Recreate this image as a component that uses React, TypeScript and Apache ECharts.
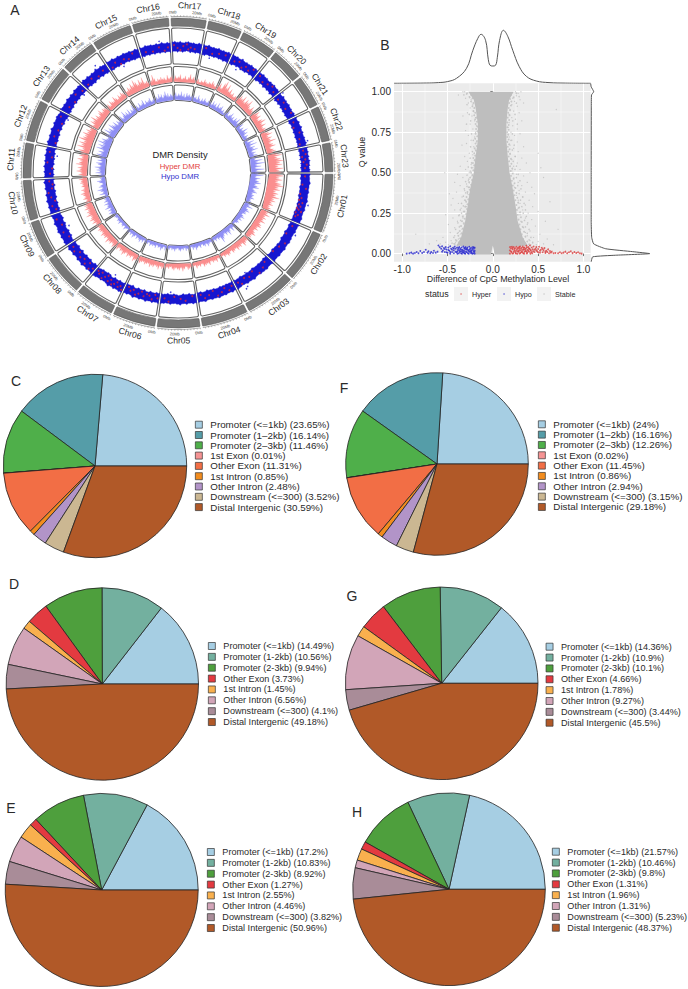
import React, { useEffect, useRef } from "react";
import * as echarts from "echarts";

// ---------- Panel A ----------
const chrNames = ["Chr01","Chr02","Chr03","Chr04","Chr05","Chr06","Chr07","Chr08","Chr09","Chr10","Chr11","Chr12","Chr13","Chr14","Chr15","Chr16","Chr17","Chr18","Chr19","Chr20","Chr21","Chr22","Chr23"];
const chrMb = [49,43,43,39,36,36,33,35,32,34,30,35,31,30,34,31,30,29,30,28,27,30,25];

const hyperDensity = [
[11,14,10,13,9,12,15,10,12,8,11,9,13,8,10,7,9,6,8,7],
[9,7,10,6,8,6,9,5,7,8,5,7,4,6,8,5,6,4],
[7,5,6,8,4,6,5,7,4,5,6,3,5,6,4,5,3,4],
[5,3,6,4,5,3,6,4,5,6,3,5,4,6,3,4],
[4,5,6,3,5,7,4,6,5,4,6,5,3,5,4,5],
[5,6,4,7,5,4,6,5,7,4,5,6,4,5,7,5],
[5,6,8,4,6,5,7,4,6,8,5,6,4,7,5],
[6,8,5,7,6,9,5,7,6,8,5,6,7,5,6],
[7,5,8,6,9,7,6,10,7,8,6,9,7,8,6],
[6,4,7,5,6,8,5,7,4,6,5,7,6,8,5],
[5,8,6,10,7,9,6,11,8,7,10,6,9,7],
[8,11,7,13,9,12,8,14,10,9,12,8,10,7,9],
[9,6,10,8,12,7,9,6,8,10,6,8,7,5],
[5,7,4,8,6,5,9,6,4,7,5,8,6,4],
[7,5,8,6,10,7,12,9,6,10,7,11,5,6,4],
[4,5,10,6,3,5,4,6,4,5,3,7,4,5,6],
[3,6,4,5,7,3,4,6,3,5,8,4,6,3],
[3,5,2,4,3,6,4,3,5,4,7,5,3,6],
[5,8,4,10,13,7,11,5,8,4,6,3,5,4],
[6,9,7,11,6,10,8,12,7,5,9,6,4],
[6,10,7,9,5,8,11,6,9,5,7,6],
[5,8,11,6,9,7,12,6,8,10,5,7,9,6],
[10,14,9,12,15,11,13,9,14,10,12],
];
const hypoDensity = [
[7,12,5,9,6,8,10,5,7,9,4,6,8,4,6,5,7,4,5,3],
[7,5,9,4,6,8,5,6,3,5,7,4,6,3,5,4,2,3],
[6,4,7,3,5,8,4,6,3,5,7,10,4,5,3,5,3,4],
[5,3,4,6,3,5,4,2,5,3,4,6,3,5,2,4],
[4,3,5,2,4,3,5,4,2,3,5,3,4,2,4,3],
[3,5,2,4,6,3,4,2,5,3,4,3,5,2,4,3],
[4,2,5,3,6,4,3,5,2,4,6,3,5,3,4],
[4,2,3,5,2,4,3,2,5,3,4,2,3,4,2],
[3,5,7,4,6,3,8,5,4,7,3,6,4,5,3],
[5,3,8,4,6,9,4,7,5,3,6,8,4,5,3],
[6,4,9,5,8,6,10,5,7,9,4,8,5,7],
[7,10,6,9,5,12,8,11,7,13,8,10,6,5,8],
[8,6,12,7,9,5,11,8,6,9,4,7,5,6],
[5,8,4,6,10,5,7,4,8,3,6,4,9,5],
[4,6,3,7,4,5,8,3,6,4,5,7,3,4,5],
[3,6,4,8,5,7,4,6,9,5,7,4,6,5,4],
[5,7,4,6,5,8,4,6,3,7,5,6,4,5],
[6,4,5,3,7,4,2,5,3,6,4,3,5,4],
[5,3,7,4,6,3,8,4,5,7,3,5,2,4],
[4,7,3,5,8,4,6,3,7,5,9,4,6],
[5,8,3,6,4,9,5,7,3,6,4,5],
[6,3,9,5,11,4,8,6,10,4,7,5,8,4],
[8,5,12,7,14,6,10,5,13,6,9],
];
// outer and inner edge of the dense hypo DMR band, per chromosome
const bandOuter = [
[132,131.5,132.5,131.5,132,131.5,132.5,131.5,132,131,132,131.5],
[132,131,131.5,130.5,131,131.5,130.5,131.5,130.5,131,130,131],
[131,130,131,130.5,130.5,129.5,131,130,130.5,129.5,130,131],
[130,131,130,131,130.5,131.5,130.5,131,130,131.5,130.5,131],
[131,131.5,130.5,131.5,130.5,132,131,130.5,131.5,130.5,131,131.5],
[132,131,132,131,132.5,131,132,131,132.5,130.5,131.5,131],
[132,132.5,131.5,132.5,131.5,133,131.5,131,132,131.5,132.5,133],
[133,132,133,132,133.5,132,133,131.5,133,132,133.5,132],
[133,133.5,132.5,133.5,132.5,134,133,132.5,134,132.5,133,134],
[134,133,134,133,134.5,133,134,132.5,134,133,134.5,133],
[134,133,134,133,134.5,133,134,133,134.5,133,134,133],
[133,134.5,133,134,133,134.5,132.5,134,133,134,133,132.5],
[134,132.5,133,132,133.5,132,133,131.5,133,132,132.5,131.5],
[132,133,131.5,132.5,131,132,131,133,131,132,131,131],
[132,131,132,130.5,131.5,130.5,131.5,130.5,131,130,131,130],
[131,130,131.5,130.5,131,130,131,130,131.5,130,131,130],
[131,131.5,130.5,131.5,130,131,131.5,130.5,131,130,131.5,130.5],
[131,130,131.5,130,130.5,130,131,130,130.5,130,131,130],
[131,130,130.5,129.5,131,129.5,130,129.5,130.5,129.5,130,129.5],
[130,129.5,130.5,129.5,130,129,130,129.5,130.5,129.5,130,129.5],
[130,129,130.5,129.5,130,129.5,130.5,129.5,130,129.5,130.5,130],
[131,130,131.5,130.5,132,130.5,131.5,130.5,131.5,131,132,130.5],
[132,131,132,131,132,131,132.5,131.5,132,131,132,131.5],
];
const bandInner = [
[123,122.5,123.5,122.5,123,122.5,123.5,123,123.5,122.5,123,122.5],
[123,122,123,121.5,122.5,121.5,123,122,122,121,122,121],
[121,120.5,121.5,121,121.5,120.5,121.5,121,121.5,120.5,121.5,121],
[121,121.5,121,121.5,121,122,121,121.5,120.5,122,121,121.5],
[122,122.5,121,122,121,122.5,122,121,122,121,122,122],
[122,121.5,122.5,121.5,123,121.5,122.5,121.5,123,121,122,121.5],
[122,123,122,123,122,123.5,122,121.5,122.5,122,123,123.5],
[123,122.5,124,122.5,123.5,122.5,124,122.5,124,122.5,124,123],
[124,124.5,123,124,123,124.5,124,123,124.5,123,124,124.5],
[124,123.5,124.5,123.5,125,123.5,124.5,123.5,125,123.5,125,124],
[125,124,125,124,125.5,124,125,124,125,124,125.5,124],
[124,125,124,125,124,125.5,124,125,123.5,124.5,123.5,123],
[124,123,124,123,124.5,123,124,123,124.5,123,123.5,123],
[123,124,122.5,123,122,123.5,122.5,123.5,122,123,122,122.5],
[122,121.5,122.5,121.5,122.5,121.5,122.5,121.5,122,121,122,121],
[121.5,121,122,121,122,121,122,121,122,121,122,121],
[121.5,122,121,122,121,122,122.5,121,122,121,122,121],
[121,120.5,122,121,121.5,121,122,121,121.5,120.5,121.5,120.5],
[121,120.5,122,121,122,120.5,121,120.5,122,121,122,120.5],
[121,120.5,122,121,122,120.5,122,121,122,120.5,122,121],
[122,120.5,122,121,122.5,121,122,121,122,121,122,122],
[122,121.5,123,122,123,122,123,122,123,122.5,123,122],
[123,122.5,123.5,122.5,123.5,122.5,124,123,123.5,122.5,123.5,123],
];
// hyper DMR points inside the band: per chromosome, percent along it then radius
const hyperDots = [
[5,127,22,125,30,129,42,124,50,126,55,124,60,128,64,125,68,127,72,124,75,126,78,129,82,124,86,127,90,125],
[8,126,30,124,52,128,66,125,84,123],
[12,124,24,127,38,129,50,123,63,126,75,124,86,128,93,125],
[6,125,16,128,26,124,36,127,48,129,58,123,70,126,82,128,92,124],
[10,124,30,128,44,126,62,124,78,129,90,126],
[4,127,12,124,20,129,28,126,36,125,44,128,52,124,60,127,68,129,76,125,84,127,92,124],
[3,130,10,127,17,129,24,125,31,128,38,130,45,126,52,129,59,124,66,127,73,130,80,125,87,128,94,126],
[5,128,14,131,22,126,32,130,42,127,54,129,66,126,78,130,90,128],
[18,126,38,129,62,127,84,130],
[8,127,20,130,34,126,46,129,60,131,72,127,84,126,94,129],
[12,128,30,126,50,131,68,127,86,130],
[10,126,28,129,48,127,70,126,88,130],
[20,127,44,125,66,129,90,126],
[12,126,34,128,58,125,82,127],
[8,124,22,127,36,123,50,126,64,124,80,128],
[16,125,40,124,62,127,80,123,92,126],
[6,128,18,125,28,123,38,127,50,129,56,124,64,126,78,125],
[10,128,36,124,60,126,84,127],
[14,125,30,127,46,123,58,126,72,124,86,128],
[10,127,32,124,52,126,70,128,88,125],
[14,124,36,127,60,125,84,128],
[12,126,30,124,52,128,74,126,92,125],
[10,127,26,129,36,125,48,128,58,126,70,129,84,127],
];
// stray hypo DMR points just outside the band edge: radius, then position
const hypoStray = [[133,125],[134.5,127],[120,120],[119.5,200],[119.5,260],[121,330],[122,402],[122,440],[122,470],[135.5,497],[119.5,520],[133,560],[119,610],[118.5,640],[132,690],[133.5,740],[133,60],[134,30]];

const scaleLabels = ["0Mb", "20Mb"];
const centerTitle = "DMR Density";
const centerHyper = "Hyper DMR";
const centerHypo = "Hypo DMR";

// ---------- Panel B ----------
const xTicks = [-1, -0.5, 0, 0.5, 1];
const xMinor = [-0.75, -0.25, 0.25, 0.75];
const qTicks = [0, 0.25, 0.5, 0.75, 1];
const qMinor = [0.125, 0.375, 0.625, 0.875];

const cloudOutline = [
[-0.27,1],[0.23,1],[0.18,0.95],[0.165,0.9],[0.15,0.8],[0.15,0.7],[0.165,0.6],[0.185,0.5],[0.22,0.4],[0.25,0.3],[0.275,0.2],[0.33,0.1],[0.385,0.05],[0.19,0.04],[0.19,-0.005],[0.02,-0.005],[0.008,0.03],[0,0.05],[-0.008,0.03],[-0.02,-0.005],[-0.2,-0.005],[-0.2,0.04],[-0.4,0.05],[-0.35,0.1],[-0.305,0.2],[-0.275,0.3],[-0.25,0.4],[-0.21,0.5],[-0.19,0.6],[-0.165,0.7],[-0.165,0.8],[-0.19,0.9],[-0.21,0.95],
];
const stablePoints = [
[-0.31,1],[-0.33,1],[-0.29,0.985],[-0.26,0.97],[-0.3,0.96],[-0.24,0.95],[-0.27,0.93],[-0.38,0.98],[-0.22,0.92],[-0.25,0.9],[-0.21,0.88],[-0.28,0.87],[-0.23,0.85],[-0.19,0.84],[-0.33,0.85],[-0.2,0.82],[-0.25,0.8],[-0.18,0.79],[-0.22,0.77],[-0.3,0.76],[-0.19,0.75],[-0.27,0.73],[-0.2,0.72],[-0.24,0.7],[-0.18,0.69],[-0.29,0.68],[-0.21,0.66],[-0.34,0.67],[-0.19,0.64],[-0.26,0.62],[-0.22,0.61],[-0.31,0.6],[-0.2,0.58],[-0.28,0.57],[-0.24,0.55],[-0.36,0.54],[-0.22,0.53],[-0.3,0.52],[-0.26,0.5],[-0.53,0.5],[-0.39,0.49],[-0.23,0.48],[-0.33,0.47],[-0.27,0.45],[-0.42,0.44],[-0.29,0.43],[-0.36,0.42],[-0.26,0.41],[-0.31,0.39],[-0.4,0.38],[-0.48,0.37],[-0.28,0.37],[-0.34,0.35],[-0.44,0.34],[-0.3,0.33],[-0.38,0.31],[-0.46,0.3],[-0.29,0.29],[-0.35,0.28],[-0.42,0.27],[-0.31,0.26],[-0.52,0.24],[-0.37,0.24],[-0.33,0.22],[-0.44,0.22],[-0.39,0.2],[-0.32,0.19],[-0.49,0.18],[-0.36,0.17],[-0.42,0.16],[-0.34,0.15],[-0.38,0.13],[-0.47,0.13],[-0.36,0.12],[-0.85,0.12],[-0.42,0.11],[-0.55,0.1],[-0.38,0.09],[-0.46,0.08],[-0.41,0.07],[-0.62,0.08],[-0.7,0.06],[-0.52,0.07],[-0.43,0.06],[-0.49,0.055],[-0.58,0.06],
[0.25,1],[0.28,0.99],[0.31,1],[0.26,0.975],[0.22,0.96],[0.3,0.95],[0.24,0.94],[0.21,0.92],[0.27,0.91],[0.34,0.93],[0.19,0.89],[0.23,0.88],[0.7,0.89],[0.29,0.87],[0.18,0.86],[0.21,0.84],[0.25,0.83],[0.18,0.81],[0.32,0.82],[0.22,0.79],[0.27,0.77],[0.17,0.78],[0.2,0.75],[0.3,0.74],[0.24,0.73],[0.18,0.72],[0.21,0.7],[0.27,0.69],[0.19,0.67],[0.34,0.66],[0.23,0.65],[0.28,0.63],[0.5,0.62],[0.19,0.62],[0.25,0.6],[0.32,0.59],[0.21,0.58],[0.27,0.56],[0.37,0.56],[0.23,0.54],[0.53,0.53],[0.3,0.52],[0.21,0.51],[0.26,0.49],[0.41,0.5],[0.34,0.48],[0.56,0.47],[0.23,0.46],[0.28,0.44],[0.38,0.44],[0.32,0.42],[0.24,0.41],[0.43,0.41],[0.29,0.39],[0.36,0.38],[0.26,0.36],[0.46,0.37],[0.33,0.35],[0.28,0.33],[0.4,0.33],[0.63,0.32],[0.3,0.31],[0.36,0.3],[0.44,0.29],[0.28,0.28],[0.33,0.27],[0.39,0.25],[0.5,0.26],[0.3,0.24],[0.36,0.22],[0.43,0.21],[0.58,0.2],[0.31,0.2],[0.38,0.18],[0.47,0.17],[0.34,0.16],[0.72,0.15],[0.41,0.14],[0.36,0.13],[0.52,0.12],[0.38,0.11],[0.45,0.1],[0.6,0.09],[0.41,0.08],[0.5,0.075],[0.44,0.065],[0.56,0.06],[0.67,0.055],[0.48,0.055],[0.42,0.055],
];
const stableEdgePoints = [
[-0.285,0.99],[-0.24,0.98],[-0.255,0.965],[-0.225,0.96],[-0.24,0.94],[-0.215,0.93],[-0.225,0.91],[-0.205,0.9],[-0.215,0.88],[-0.195,0.87],[-0.205,0.855],[-0.18,0.84],[-0.195,0.83],[-0.175,0.815],[-0.19,0.8],[-0.17,0.785],[-0.185,0.77],[-0.17,0.755],[-0.19,0.74],[-0.172,0.725],[-0.195,0.71],[-0.175,0.695],[-0.19,0.68],[-0.178,0.665],[-0.2,0.65],[-0.185,0.635],[-0.205,0.62],[-0.195,0.605],[-0.215,0.59],[-0.2,0.575],[-0.22,0.56],[-0.205,0.545],[-0.235,0.53],[-0.215,0.515],[-0.24,0.5],[-0.225,0.485],[-0.25,0.47],[-0.23,0.455],[-0.26,0.44],[-0.24,0.425],[-0.265,0.41],[-0.255,0.395],[-0.28,0.38],[-0.26,0.365],[-0.29,0.35],[-0.27,0.335],[-0.295,0.32],[-0.28,0.305],[-0.305,0.29],[-0.285,0.275],[-0.32,0.26],[-0.295,0.245],[-0.33,0.23],[-0.31,0.215],[-0.34,0.2],[-0.32,0.185],[-0.35,0.17],[-0.33,0.155],[-0.365,0.14],[-0.345,0.125],[-0.38,0.11],[-0.36,0.095],[-0.4,0.08],[-0.375,0.07],[-0.42,0.06],[-0.39,0.052],
[0.26,0.99],[0.2,0.98],[0.23,0.965],[0.19,0.955],[0.205,0.94],[0.18,0.93],[0.2,0.915],[0.175,0.9],[0.19,0.885],[0.17,0.87],[0.185,0.855],[0.165,0.84],[0.18,0.825],[0.16,0.81],[0.175,0.795],[0.16,0.78],[0.175,0.765],[0.158,0.75],[0.17,0.735],[0.158,0.72],[0.175,0.705],[0.16,0.69],[0.18,0.675],[0.165,0.66],[0.185,0.645],[0.17,0.63],[0.19,0.615],[0.175,0.6],[0.2,0.585],[0.18,0.57],[0.205,0.555],[0.19,0.54],[0.215,0.525],[0.195,0.51],[0.22,0.495],[0.2,0.48],[0.23,0.465],[0.21,0.45],[0.24,0.435],[0.22,0.42],[0.25,0.405],[0.23,0.39],[0.26,0.375],[0.24,0.36],[0.27,0.345],[0.25,0.33],[0.28,0.315],[0.26,0.3],[0.29,0.285],[0.265,0.27],[0.3,0.255],[0.275,0.24],[0.31,0.225],[0.285,0.21],[0.32,0.195],[0.295,0.18],[0.33,0.165],[0.305,0.15],[0.345,0.135],[0.32,0.12],[0.36,0.105],[0.335,0.09],[0.38,0.075],[0.35,0.065],[0.4,0.058],[0.37,0.052],
];
const stableOuterPoints = [
[-0.235,0.74],[-0.215,0.7],[-0.245,0.66],[-0.225,0.63],[-0.25,0.59],[-0.235,0.56],[-0.27,0.535],[-0.25,0.51],[-0.285,0.485],[-0.265,0.46],[-0.3,0.445],[-0.285,0.415],[-0.315,0.4],[-0.3,0.375],[-0.325,0.355],[-0.31,0.33],[-0.345,0.31],[-0.325,0.295],[-0.36,0.27],[-0.345,0.25],[-0.375,0.235],[-0.355,0.205],[-0.385,0.19],[-0.37,0.165],[-0.41,0.15],[-0.39,0.125],[-0.43,0.1],[-0.41,0.085],[-0.45,0.065],[-0.245,0.82],[-0.26,0.86],[-0.285,0.92],[-0.32,0.98],[-0.29,0.8],
[0.215,0.74],[0.2,0.7],[0.235,0.67],[0.215,0.64],[0.245,0.6],[0.225,0.57],[0.26,0.54],[0.245,0.52],[0.28,0.49],[0.26,0.47],[0.3,0.45],[0.275,0.42],[0.31,0.4],[0.29,0.37],[0.33,0.35],[0.305,0.33],[0.345,0.31],[0.32,0.29],[0.36,0.27],[0.335,0.25],[0.37,0.23],[0.35,0.205],[0.385,0.19],[0.36,0.165],[0.4,0.15],[0.38,0.125],[0.42,0.1],[0.4,0.085],[0.44,0.07],[0.22,0.82],[0.245,0.86],[0.26,0.93],[0.29,0.97],[0.27,0.8],
];
const hypoPoints = [
[-0.95,0],[-0.92,0.002],[-0.9,0.006],[-0.88,0],[-0.86,0.004],[-0.84,0.01],[-0.82,0.002],[-0.8,0.016],[-0.78,0.004],[-0.76,0.01],[-0.74,0.024],[-0.72,0.006],[-0.71,0.014],[-0.69,0.002],[-0.68,0.01],[-0.66,0.004],[-0.65,0.018],[-0.63,0.006],[-0.61,0.012],[-0.6,0.05],[-0.585,0.04],[-0.57,0.03],[-0.56,0.045],[-0.55,0.02],[-0.54,0.035],[-0.53,0.01],[-0.52,0.04],[-0.51,0.025],[-0.5,0.005],[-0.49,0.038],[-0.48,0.018],[-0.47,0.045],[-0.46,0.03],[-0.45,0.01],[-0.44,0.036],[-0.43,0.02],[-0.42,0.043],[-0.41,0.03],[-0.4,0.008],[-0.395,0.038],[-0.385,0.024],[-0.375,0.002],[-0.37,0.041],[-0.36,0.03],[-0.355,0.014],[-0.35,0.002],[-0.345,0.038],[-0.335,0.024],[-0.33,0.008],[-0.325,0.043],[-0.315,0.03],[-0.31,0.016],[-0.305,0],[-0.3,0.04],[-0.29,0.025],[-0.285,0.008],[-0.28,0.038],[-0.27,0.018],[-0.265,0],[-0.26,0.042],[-0.25,0.03],[-0.245,0.012],[-0.24,0.036],[-0.23,0.022],[-0.225,0],[-0.22,0.04],[-0.21,0.028],[-0.205,0.01],[-0.2,0.036],[-0.2,0.018],[-0.2,0],[-0.215,0.002],[-0.24,0.002],[-0.275,0.002],[-0.31,0.002],[-0.34,0],[-0.39,0],[-0.43,0.002],[-0.47,0],
[-0.37,0.02],[-0.38,0.034],[-0.365,0.01],[-0.35,0.024],[-0.34,0.014],[-0.325,0.018],[-0.32,0.006],[-0.31,0.036],[-0.295,0.012],[-0.3,0.028],[-0.285,0.032],[-0.275,0.024],[-0.26,0.012],[-0.255,0.024],[-0.24,0.018],[-0.235,0.008],[-0.225,0.03],[-0.215,0.016],[-0.21,0.038],[-0.39,0.014],[-0.41,0.012],[-0.43,0.032],[-0.45,0.024],[-0.47,0.01],[-0.49,0.022],[-0.51,0.008],[-0.53,0.028],[-0.56,0.012],
];
const hyperPoints = [
[0.19,0.04],[0.19,0.02],[0.19,0],[0.2,0.032],[0.205,0.01],[0.21,0.042],[0.22,0.026],[0.225,0.002],[0.23,0.04],[0.24,0.018],[0.245,0.034],[0.25,0.006],[0.26,0.042],[0.265,0.024],[0.27,0],[0.28,0.038],[0.285,0.012],[0.29,0.03],[0.3,0.044],[0.305,0.004],[0.31,0.02],[0.32,0.036],[0.325,0.01],[0.33,0.044],[0.34,0.026],[0.345,0],[0.35,0.038],[0.36,0.016],[0.365,0.03],[0.37,0.048],[0.38,0.006],[0.385,0.024],[0.39,0.04],[0.4,0.012],[0.405,0.032],[0.41,0.05],[0.42,0.018],[0.43,0.038],[0.435,0.002],[0.44,0.026],[0.45,0.044],[0.46,0.01],[0.47,0.03],[0.48,0.04],[0.49,0.014],[0.5,0.028],[0.51,0.042],[0.52,0.006],[0.53,0.024],[0.54,0.036],[0.55,0.008],[0.56,0.02],[0.57,0.034],[0.58,0.004],[0.59,0.018],[0.6,0.01],[0.61,0.026],[0.62,0.002],[0.63,0.016],[0.64,0.006],[0.65,0.012],[0.67,0.002],[0.69,0.004],[0.72,0.002],[0.74,0.008],[0.76,0.002],[0.78,0.006],[0.8,0.012],[0.82,0.002],[0.84,0.008],[0.86,0.014],[0.88,0.003],[0.9,0.01],[0.92,0.004],[0.94,0.008],[0.96,0.002],[0.98,0],[0.215,0.001],[0.255,0.001],[0.295,0.001],[0.335,0.002],[0.375,0.001],[0.415,0],
[0.2,0.014],[0.215,0.034],[0.23,0.012],[0.24,0.028],[0.255,0.016],[0.27,0.032],[0.275,0.014],[0.29,0.02],[0.295,0.04],[0.31,0.03],[0.315,0.01],[0.33,0.022],[0.34,0.036],[0.35,0.012],[0.355,0.026],[0.37,0.014],[0.375,0.038],[0.39,0.018],[0.4,0.03],[0.415,0.024],[0.425,0.008],[0.445,0.014],[0.46,0.024],[0.48,0.02],[0.5,0.008],[0.52,0.018],[0.55,0.028],[0.58,0.012],
];
const topDensityCurve = [
[-1.09,0],[-0.7,0.3],[-0.6,0.7],[-0.5,1.7],[-0.4,5],[-0.29,15],[-0.22,33],[-0.165,45],[-0.13,49],[-0.08,43],[-0.05,24],[-0.03,18],[0,17.3],[0.03,18],[0.05,26],[0.075,43],[0.117,53],[0.165,47],[0.22,33],[0.29,17],[0.37,7],[0.48,2.3],[0.62,0.7],[0.8,0.2],[1.08,0],
];
const rightDensityCurve = [
[0,1.05],[0.5,1.03],[3,1.0],[0.8,0.98],[0.6,0.9],[0.5,0.5],[0.5,0.2],[1,0.1],[3,0.06],[15,0.03],[42,0.012],[59,0],[25,-0.01],[2,-0.02],[0.5,-0.05],
];
const xTitle = "Difference of CpG Methylation Level";
const yTitle = "Q value";
const statusTitle = "status";
const statusLabels = ["Hyper", "Hypo", "Stable"];
const statusColors = ["#D93A3A", "#2222CC", "#BEBEBE"];

// ---------- Panels C-H ----------
const labelsWide = ["Promoter (<=1kb)","Promoter (1\u20132kb)","Promoter (2\u20133kb)","1st Exon","Other Exon","1st Intron","Other Intron","Downstream (<=300)","Distal Intergenic"];
const labelsNarrow = ["Promoter (<=1kb)","Promoter (1-2kb)","Promoter (2-3kb)","Other Exon","1st Intron","Other Intron","Downstream (<=300)","Distal Intergenic"];
const colorsWide = ["#A6CEE3","#559DA8","#4FAF4A","#F59393","#F26E45","#F28C1E","#B294C8","#CBB792","#B15928"];
const colorsNarrow = ["#A6CEE3","#73B09F","#4E9F3D","#E33A40","#F9B04E","#D2A5B8","#A98C98","#B15928"];
const valuesC = [23.65,16.14,11.46,0.01,11.31,0.85,2.48,3.52,30.59];
const valuesF = [24,16.16,12.26,0.02,11.45,0.86,2.94,3.15,29.18];
const valuesD = [14.49,10.56,9.94,3.73,1.45,6.56,4.1,49.18];
const valuesE = [17.2,10.83,8.92,1.27,2.55,4.46,3.82,50.96];
const valuesG = [14.36,10.9,10.1,4.66,1.78,9.27,3.44,45.5];
const valuesH = [21.57,10.46,9.8,1.31,1.96,1.31,5.23,48.37];

const FONT = "'Liberation Sans', Arial, sans-serif";
const INK = "#2a2a2a";

function buildOption() {
  const starts: number[] = [];
  chrMb.reduce((s, m, i) => { starts[i] = s; return s + m; }, 0);
  const total = chrMb.reduce((a, b) => a + b, 0);
  const GAP = 1;
  const chrRows = chrNames.map((_, i) => [i, 0]);
  const along = (i: number, f: number) => starts[i] + GAP + f * (chrMb[i] - 2 * GAP);

  const angleOf = (p: number[], cs: any) => Math.atan2(p[1] - cs.cy, p[0] - cs.cx);
  const sector = (api: any, cs: any, r0: number, r: number, a: number, b: number, style: any, cornerRadius = 1.5) => {
    const pr = api.coord([r, a]);
    const pr0 = api.coord([r0, a]);
    const pe = api.coord([r, b]);
    const rr = Math.hypot(pr[0] - cs.cx, pr[1] - cs.cy);
    const rr0 = Math.hypot(pr0[0] - cs.cx, pr0[1] - cs.cy);
    const sa = angleOf(pr, cs);
    let ea = angleOf(pe, cs);
    if (ea < sa) ea += Math.PI * 2;
    return { type: "sector", shape: { cx: cs.cx, cy: cs.cy, r: rr, r0: rr0, startAngle: sa, endAngle: ea, clockwise: true, cornerRadius }, style };
  };

  const framesItem = (params: any, api: any) => {
    const cs = params.coordSys;
    const i = api.value(0);
    const a = starts[i] + GAP, b = starts[i] + chrMb[i] - GAP;
    const stroke = { fill: "none", stroke: "#636363", lineWidth: 1.1 };
    const children: any[] = [
      sector(api, cs, 147, 155, a, b, { fill: "#777", stroke: "#555", lineWidth: 0.6 }, 0.5),
      sector(api, cs, 109, 145, a, b, stroke),
      sector(api, cs, 90.5, 106.5, a, b, stroke),
      sector(api, cs, 72.5, 88, a, b, stroke),
    ];
    const pts: number[][] = [];
    for (let m = 0; m <= chrMb[i] - 2 * GAP; m += 1) pts.push(api.coord([156.5, a + m]));
    pts.push(api.coord([156.5, b]));
    children.push({ type: "polyline", shape: { points: pts }, style: { fill: "none", stroke: "#555", lineWidth: 0.5 } });
    for (let m = 0; m <= chrMb[i] - 2 * GAP; m += 2.5) {
      const p0 = api.coord([156.5, a + m]);
      const p1 = api.coord([157.8, a + m]);
      children.push({ type: "line", shape: { x1: p0[0], y1: p0[1], x2: p1[0], y2: p1[1] }, style: { stroke: "#555", lineWidth: 0.4 } });
    }
    const label = (text: string, r: number, mb: number, size: number, fill: string) => {
      const p = api.coord([r, mb]);
      let deg = (angleOf(p, cs) * 180) / Math.PI + 90;
      while (deg > 90) deg -= 180;
      while (deg <= -90) deg += 180;
      return { type: "text", x: p[0], y: p[1], rotation: (-deg * Math.PI) / 180, style: { text, fill, fontSize: size, fontFamily: FONT, align: "center", verticalAlign: "middle" } };
    };
    children.push(label(chrNames[i], 167.5, starts[i] + chrMb[i] / 2, 8.6, INK));
    children.push(label(scaleLabels[0], 161, a + 1.5, 4, "#444"));
    children.push(label(scaleLabels[1], 161, a + 20, 4, "#444"));
    return { type: "group", children };
  };

  const densityItem = (table: number[][], base: number, color: string) => (params: any, api: any) => {
    const i = api.value(0);
    const row = table[i];
    const pts: number[][] = [api.coord([base, along(i, 0)])];
    row.forEach((v, k) => {
      const f = k / (row.length - 1);
      pts.push(api.coord([base + v, along(i, f)]));
      if (k < row.length - 1) pts.push(api.coord([base + Math.min(v, row[k + 1]) * 0.6, along(i, f + 0.5 / (row.length - 1))]));
    });
    pts.push(api.coord([base, along(i, 1)]));
    return { type: "polygon", shape: { points: pts }, style: { fill: color, stroke: color, lineWidth: 0.2 } };
  };

  const bandItem = (params: any, api: any) => {
    const i = api.value(0);
    const out = bandOuter[i], inn = bandInner[i];
    const n = out.length - 1;
    const pts: number[][] = [];
    out.forEach((r, k) => {
      pts.push(api.coord([r + 0.3, along(i, k / n)]));
      if (k < n) pts.push(api.coord([(r + out[k + 1]) / 2 - 0.4, along(i, (k + 0.5) / n)]));
    });
    for (let k = n; k >= 0; k--) {
      pts.push(api.coord([inn[k] - 0.3, along(i, k / n)]));
      if (k > 0) pts.push(api.coord([(inn[k] + inn[k - 1]) / 2 + 0.4, along(i, (k - 0.5) / n)]));
    }
    return { type: "polygon", shape: { points: pts }, style: { fill: "#1616D0", stroke: "#1616D0", lineWidth: 0.4 } };
  };

  const hyperData: number[][] = [];
  hyperDots.forEach((row, i) => {
    for (let k = 0; k < row.length; k += 2) hyperData.push([row[k + 1], along(i, row[k] / 100)]);
  });

  const cloudItem = (params: any, api: any) => ({
    type: "polygon",
    shape: { points: cloudOutline.map((p) => api.coord(p)) },
    style: { fill: "#BEBEBE" },
  });

  const pies = [
    { id: "C", labels: labelsWide, colors: colorsWide, values: valuesC, c: [95, 466], r: 91.7, lx: 195, ly: 424.7, step: 10.3, fs: 9.8 },
    { id: "F", labels: labelsWide, colors: colorsWide, values: valuesF, c: [437, 464], r: 91.3, lx: 538, ly: 424.3, step: 10.33, fs: 9.8 },
    { id: "D", labels: labelsNarrow, colors: colorsNarrow, values: valuesD, c: [102.3, 684], r: 96.2, lx: 208, ly: 646, step: 10.86, fs: 9.1 },
    { id: "E", labels: labelsNarrow, colors: colorsNarrow, values: valuesE, c: [101.7, 890], r: 96.5, lx: 207, ly: 852, step: 10.86, fs: 9.1 },
    { id: "G", labels: labelsNarrow, colors: colorsNarrow, values: valuesG, c: [441.7, 683.3], r: 96.3, lx: 545.7, ly: 646.7, step: 10.86, fs: 9.1 },
    { id: "H", labels: labelsNarrow, colors: colorsNarrow, values: valuesH, c: [449, 889.3], r: 96.3, lx: 552, ly: 851.7, step: 10.86, fs: 9.1 },
  ];
  const pieSeries = pies.map((p) => ({
    type: "pie",
    name: p.id,
    silent: true,
    center: p.c,
    radius: [0, p.r],
    startAngle: 0,
    clockwise: false,
    avoidLabelOverlap: false,
    label: { show: false },
    labelLine: { show: false },
    itemStyle: { borderColor: "#222", borderWidth: 0.8 },
    data: p.values.map((v, i) => ({ name: `${p.labels[i]} (${v}%)`, value: v, itemStyle: { color: p.colors[i] } })),
  }));
  const pieLegends = pies.map((p) => ({
    show: true,
    orient: "vertical",
    left: p.lx,
    top: p.ly - p.step / 2,
    padding: 0,
    itemWidth: 7,
    itemHeight: 7,
    itemGap: 0,
    selectedMode: false,
    icon: "rect",
    itemStyle: { borderColor: "#333", borderWidth: 0.7 },
    textStyle: { fontFamily: FONT, fontSize: p.fs, lineHeight: p.step, color: INK, padding: [0, 0, 0, 3] },
    data: p.values.map((v, i) => `${p.labels[i]} (${v}%)`),
  }));

  const axisText = { fontFamily: FONT, color: INK };
  const panelLetters = [["A", 15, 10], ["B", 385, 45], ["C", 16, 381], ["F", 344, 388], ["D", 14, 584], ["E", 11, 808], ["G", 352, 596], ["H", 357, 812]] as [string, number, number][];

  const legendKeys = [454, 497, 537].map((x, i) => [
    { type: "rect", shape: { x, y: 287, width: 14, height: 14 }, style: { fill: "#F2F2F2" } },
    { type: "circle", shape: { cx: x + 7, cy: 294, r: 0.6 }, style: { fill: statusColors[i] } },
    { type: "text", x: x + 18, y: 294, style: { text: statusLabels[i], fill: INK, fontSize: 7.2, fontFamily: FONT, verticalAlign: "middle" } },
  ]).flat();

  return {
    animation: false,
    backgroundColor: "#fff",
    polar: { center: [178, 173], radius: 155 },
    angleAxis: { min: 0, max: total, startAngle: 0, clockwise: true, show: false },
    radiusAxis: { min: 0, max: 155, show: false },
    legend: pieLegends,
    grid: [
      { left: 394, top: 83.3, width: 196.7, height: 178.4, show: true, backgroundColor: "#EBEBEB", borderWidth: 0 },
      { left: 394, top: 28.3, width: 196.7, height: 55, show: false },
      { left: 590.7, top: 83.3, width: 60, height: 178.4, show: false },
    ],
    xAxis: [
      { gridIndex: 0, type: "value", min: -1.09, max: 1.08, axisLine: { show: false },
        axisTick: { customValues: xTicks, length: 2.5, lineStyle: { color: "#333", width: 0.7 } },
        axisLabel: { customValues: xTicks, ...axisText, fontSize: 10, margin: 3, formatter: (v: number) => v.toFixed(1) },
        splitLine: { show: true, lineStyle: { color: "#fff", width: 1 } } },
      { gridIndex: 0, type: "value", min: -1.09, max: 1.08, axisLine: { show: false },
        axisTick: { show: false, customValues: xMinor }, axisLabel: { show: false, customValues: xMinor },
        splitLine: { show: true, lineStyle: { color: "#fff", width: 0.4 } } },
      { gridIndex: 1, type: "value", min: -1.09, max: 1.08, show: false },
      { gridIndex: 2, type: "value", min: 0, max: 60, show: false },
    ],
    yAxis: [
      { gridIndex: 0, type: "value", min: -0.05, max: 1.052, axisLine: { show: false },
        axisTick: { customValues: qTicks, length: 2.5, lineStyle: { color: "#333", width: 0.7 } },
        axisLabel: { customValues: qTicks, ...axisText, fontSize: 10, margin: 3, formatter: (v: number) => v.toFixed(2) },
        splitLine: { show: true, lineStyle: { color: "#fff", width: 1 } } },
      { gridIndex: 0, type: "value", min: -0.05, max: 1.052, axisLine: { show: false },
        axisTick: { show: false, customValues: qMinor }, axisLabel: { show: false, customValues: qMinor },
        splitLine: { show: true, lineStyle: { color: "#fff", width: 0.4 } } },
      { gridIndex: 1, type: "value", min: 0, max: 55, show: false },
      { gridIndex: 2, type: "value", min: -0.05, max: 1.052, show: false },
    ],
    series: [
      { type: "custom", coordinateSystem: "polar", silent: true, data: chrRows, renderItem: framesItem, z: 2 },
      { type: "custom", coordinateSystem: "polar", silent: true, data: chrRows, renderItem: densityItem(hyperDensity, 91.5, "#FB8E8E"), z: 3 },
      { type: "custom", coordinateSystem: "polar", silent: true, data: chrRows, renderItem: densityItem(hypoDensity, 73.5, "#8F8FF5"), z: 3 },
      { type: "custom", coordinateSystem: "polar", silent: true, data: chrRows, renderItem: bandItem, z: 3 },
      { type: "scatter", coordinateSystem: "polar", silent: true, data: hypoStray, symbolSize: 1.6, itemStyle: { color: "#1616D0" }, z: 4 },
      { type: "scatter", coordinateSystem: "polar", silent: true, data: hyperData, symbolSize: 2, itemStyle: { color: "#D8283A" }, z: 4 },

      { type: "custom", xAxisIndex: 0, yAxisIndex: 0, silent: true, data: [[0, 0.5]], renderItem: cloudItem, z: 3 },
      { type: "scatter", xAxisIndex: 0, yAxisIndex: 0, silent: true, data: stablePoints, symbolSize: 1.2, itemStyle: { color: statusColors[2] }, z: 3 },
      { type: "scatter", xAxisIndex: 0, yAxisIndex: 0, silent: true, data: stableEdgePoints, symbolSize: 1.8, itemStyle: { color: statusColors[2] }, z: 3 },
      { type: "scatter", xAxisIndex: 0, yAxisIndex: 0, silent: true, data: stableOuterPoints, symbolSize: 1.5, itemStyle: { color: statusColors[2] }, z: 3 },
      { type: "scatter", xAxisIndex: 0, yAxisIndex: 0, silent: true, data: hypoPoints, symbolSize: 1.8, itemStyle: { color: statusColors[1] }, z: 4 },
      { type: "scatter", xAxisIndex: 0, yAxisIndex: 0, silent: true, data: hyperPoints, symbolSize: 1.8, itemStyle: { color: statusColors[0] }, z: 4 },
      { type: "line", xAxisIndex: 2, yAxisIndex: 2, silent: true, data: topDensityCurve, smooth: 0.4, showSymbol: false, lineStyle: { color: "#555", width: 1 }, z: 4 },
      { type: "line", xAxisIndex: 3, yAxisIndex: 3, silent: true, data: rightDensityCurve, smooth: 0.15, showSymbol: false, lineStyle: { color: "#555", width: 1 }, z: 4 },
      ...pieSeries,
    ],
    graphic: [
      ...panelLetters.map(([t, x, y]) => ({ type: "text", x, y, style: { text: t, fill: INK, fontSize: 14, fontFamily: FONT, align: "center", verticalAlign: "middle" } })),
      { type: "text", x: 180, y: 154, style: { text: centerTitle, fill: "#222", fontSize: 9.4, fontFamily: FONT, align: "center", verticalAlign: "middle" } },
      { type: "text", x: 180, y: 166, style: { text: centerHyper, fill: "#E2403C", fontSize: 7.8, fontFamily: FONT, align: "center", verticalAlign: "middle" } },
      { type: "text", x: 180, y: 176, style: { text: centerHypo, fill: "#3232CC", fontSize: 7.8, fontFamily: FONT, align: "center", verticalAlign: "middle" } },
      { type: "text", x: 498, y: 279, style: { text: xTitle, fill: INK, fontSize: 8.9, fontFamily: FONT, align: "center", verticalAlign: "middle" } },
      { type: "text", x: 362, y: 152, rotation: Math.PI / 2, style: { text: yTitle, fill: INK, fontSize: 8.9, fontFamily: FONT, align: "center", verticalAlign: "middle" } },
      { type: "text", x: 425, y: 294, style: { text: statusTitle, fill: INK, fontSize: 8.9, fontFamily: FONT, verticalAlign: "middle" } },
      ...legendKeys,
    ],
  };
}

export default function App() {
  const ref = useRef<HTMLDivElement>(null);
  useEffect(() => {
    const chart = echarts.init(ref.current!, undefined, { renderer: "svg" });
    chart.setOption(buildOption() as any);
    return () => chart.dispose();
  }, []);
  return <div ref={ref} style={{ position: "absolute", left: 0, top: 0, width: 688, height: 989 }} />;
}
